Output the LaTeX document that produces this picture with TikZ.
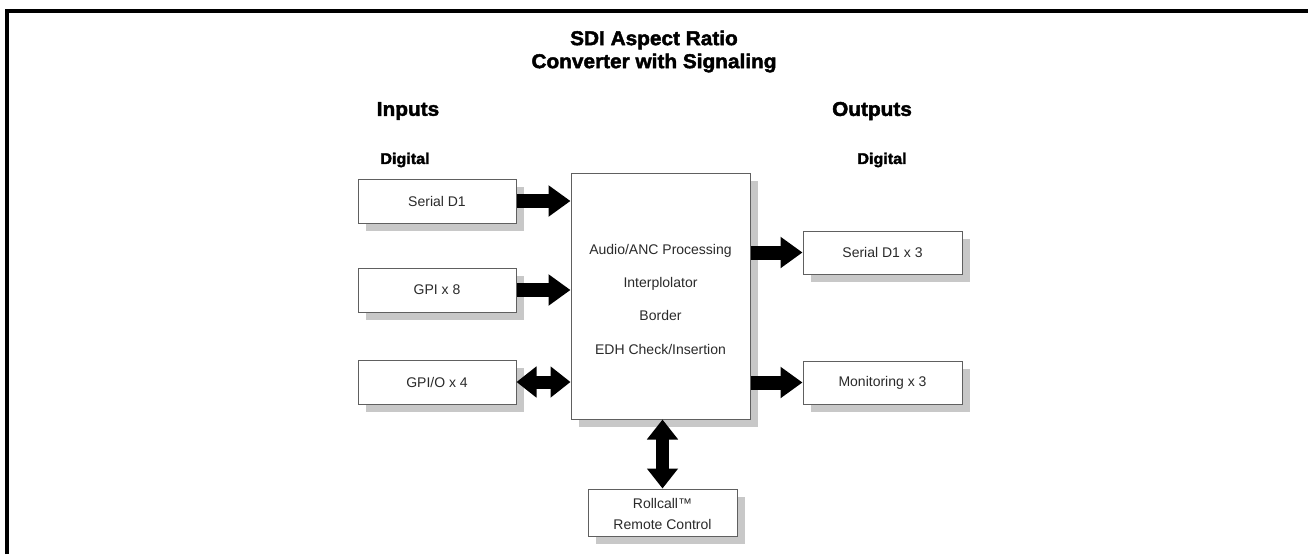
\documentclass[tikz,border=0pt]{standalone}
\usepackage{fontspec}
\setmainfont{Liberation Sans}
\newfontfamily\heavy[FakeBold=2.2,FakeStretch=1.04]{Liberation Sans}
\usetikzlibrary{arrows.meta,shadows}
\definecolor{shadowgray}{HTML}{C8C8C8}
\definecolor{edgegray}{HTML}{606060}
\definecolor{txt}{HTML}{2A2A2A}
\tikzset{
  box/.style={draw=edgegray, line width=1pt, fill=white, text=txt,
    font=\fontsize{14}{21}\selectfont, align=center, inner sep=0pt,
    drop shadow={shadow xshift=8pt, shadow yshift=-8pt, fill=shadowgray, opacity=1}},
  inbox/.style={box, minimum width=158pt, minimum height=44pt},
  outbox/.style={box, minimum width=159pt, minimum height=43pt},
  fat/.style={line width=14pt, -{Triangle[length=22pt,width=30pt]}},
  fatboth/.style={line width=13pt, {Triangle[length=20pt,width=30pt]}-{Triangle[length=20pt,width=30pt]}},
  heading/.style={font=\heavy\bfseries\fontsize{20}{23}\selectfont, align=center},
  subheading/.style={font=\heavy\bfseries\fontsize{15.5}{18}\selectfont}
}
\begin{document}
\begin{tikzpicture}[x=1pt,y=-1pt]
\useasboundingbox (0,0) rectangle (1308,554);
% frame
\draw[line width=4pt] (7,554) -- (7,11) -- (1308,11);
% titles
\node[heading] (title) at (654,51.5) {SDI Aspect Ratio\\Converter with Signaling};
\node[heading] (inputs) at (408,111) {Inputs};
\node[heading] (outputs) at (872,111) {Outputs};
\node[subheading] (dig1) at (405,160) {Digital};
\node[subheading] (dig2) at (882,160) {Digital};
% boxes
\node[inbox] (sd1) at (437,201) {Serial D1};
\node[inbox] (gpi) at (437,290) {GPI x 8};
\node[inbox] (gpio) at (437,382) {GPI/O x 4};
\node[box, minimum width=179pt, minimum height=246pt,
      font=\fontsize{14}{33.3}\selectfont] (core) at (660.5,296)
  {\rule{0pt}{16.5pt}Audio/ANC Processing\\Interplolator\\Border\\EDH Check/Insertion};
\node[outbox] (sdo) at (882.5,252.5) {Serial D1 x 3};
\node[outbox] (mon) at (882.5,382.5) {Monitoring x 3};
\node[box, minimum width=149pt, minimum height=47pt] (rc) at (662.5,512.5) {\rule{0pt}{13pt}Rollcall™\\Remote Control};
% connectors
\draw[fat] (sd1.east) -- (sd1.east -| core.west);
\draw[fat] (gpi.east) -- (gpi.east -| core.west);
\draw[fatboth] (gpio.east) -- (gpio.east -| core.west);
\draw[fat] (core.east |- sdo.west) -- (sdo.west);
\draw[fat] (core.east |- mon.west) -- (mon.west);
\draw[fatboth] (rc.north |- core.south) -- (rc.north);
\end{tikzpicture}
\end{document}
